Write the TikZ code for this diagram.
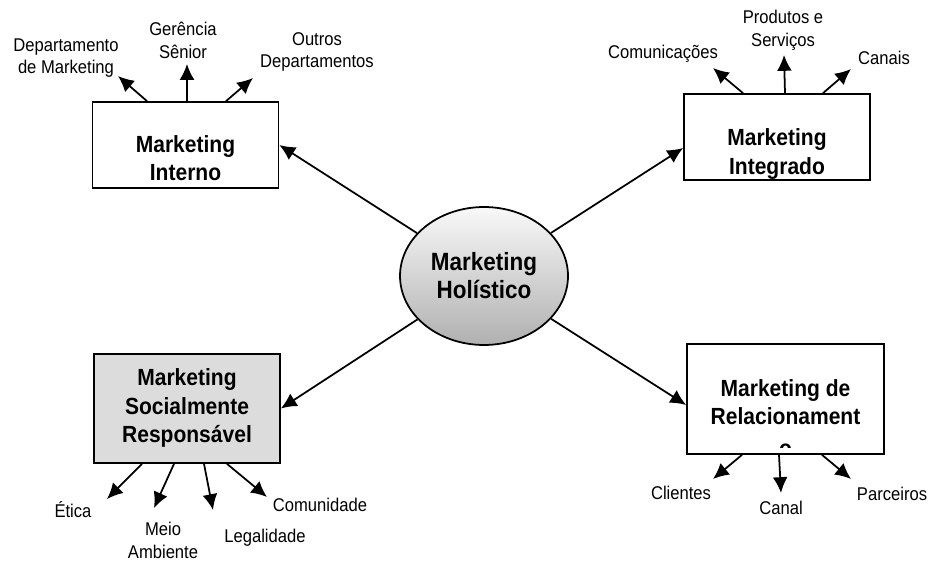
\documentclass[tikz,border=0pt]{standalone}
\usepackage{fontspec}
\setmainfont{Liberation Sans}
\newfontfamily\narrowfont[FakeStretch=0.9]{Liberation Sans}
\usetikzlibrary{arrows.meta,shapes.geometric}

\definecolor{socfill}{RGB}{220,220,220}

\tikzset{
  box/.style={draw, line width=1pt, minimum width=3.72cm, minimum height=1.72cm, inner sep=0pt},
  boxtext/.style={font=\narrowfont\bfseries\fontsize{13.3}{16}\selectfont, align=center, inner sep=0pt},
  small/.style={font=\narrowfont\fontsize{10.5}{13}\selectfont, align=center, inner sep=0pt},
}

\begin{document}
\begin{tikzpicture}[>={Latex[length=9pt,width=8.5pt]}, x=0.02cm, y=-0.02cm, line width=1pt]
		%\draw [help lines] (0,0) grid (929,563);
		\useasboundingbox (0,0) rectangle (929,563);

		% centre
		\node [ellipse, draw, minimum width=3.36cm, minimum height=2.76cm, top color=gray!5, bottom color=gray!62,
			font=\narrowfont\bfseries\fontsize{14.2}{16}\selectfont, align=center] (hol) at (484,276) {Marketing\\Holístico};

		% the four boxes
		\node [box] (int) at (185.5,145) {};
		\node [boxtext] (intT) at (185.5,158) {Marketing\\Interno};
		\node [box, minimum width=3.72cm] (intg) at (777,137) {};
		\node [boxtext] (intgT) at (777,154) {Marketing\\Integrado};
		\node [box, fill=socfill, minimum height=2.18cm] (soc) at (187,408.5) {};
		\node [boxtext] (socT) at (187,408) {Marketing\\Socialmente\\Responsável};
		\node [box, minimum width=3.94cm, minimum height=2.2cm] (rel) at (785.5,399) {};
		\node [boxtext] (relT) at (785.5,402) {Marketing de\\Relacionament};
		\begin{scope}
			\clip (687,344) rectangle (884,447);
			\node [boxtext] (relO) at (785.5,450) {o};
		\end{scope}

		\draw [->] (hol) -- (int.east);
		\draw [->] (hol) -- ([yshift=-0.22cm]intg.west);
		\draw [->] (hol) -- (soc.east);
		\draw [->] (hol) -- ([yshift=-0.12cm]rel.west);

		% Marketing Interno
		\node [small] (dm) at (66,58) {Departamento\\de Marketing};
		\node [small] (gs) at (183,40) {Gerência\\Sênior};
		\node [small] (od) at (317,52) {Outros\\Departamentos};
		\coordinate (dmT) at (118,76);
		\coordinate (gsT) at (187,64);
		\coordinate (odT) at (253,78);
		\foreach \s/\t in {-0.77/dmT, 0.03/gsT, 0.81/odT}
			\draw [->] ([xshift=\s cm]int.north) -- (\t);

		% Marketing Integrado
		\node [small] (com) at (663,54) {Comunicações};
		\node [small] (ps) at (783,30) {Produtos e\\Serviços};
		\node [small] (can) at (884,58) {Canais};
		\coordinate (comT) at (713,68);
		\coordinate (psT) at (784,55);
		\coordinate (canT) at (851,69);
		\foreach \s/\t in {-0.68/comT, 0.16/psT, 0.92/canT}
			\draw [->] ([xshift=\s cm]intg.north) -- (\t);

		% Marketing Socialmente Responsavel
		\node [small] (eti) at (73,510) {Ética};
		\node [small] (meio) at (163,540) {Meio\\Ambiente};
		\node [small] (leg) at (265,538) {Legalidade};
		\node [small] (comu) at (320,505) {Comunidade};
		\coordinate (etiT) at (107,499);
		\coordinate (meioT) at (154,508);
		\coordinate (legT) at (213,510);
		\coordinate (comuT) at (267,497);
		\foreach \s/\t in {-0.9/etiT, -0.26/meioT, 0.34/legT, 0.8/comuT}
			\draw [->] ([xshift=\s cm]soc.south) -- (\t);

		% Marketing de Relacionamento
		\node [small] (cli) at (681,493) {Clientes};
		\node [small] (cnl) at (781,508) {Canal};
		\node [small] (par) at (892,494) {Parceiros};
		\coordinate (cliT) at (713,479);
		\coordinate (cnlT) at (781,493);
		\coordinate (parT) at (851,479);
		\foreach \s/\t in {-0.87/cliT, -0.13/cnlT, 0.73/parT}
			\draw [->] ([xshift=\s cm]rel.south) -- (\t);
	\end{tikzpicture}
\end{document}
